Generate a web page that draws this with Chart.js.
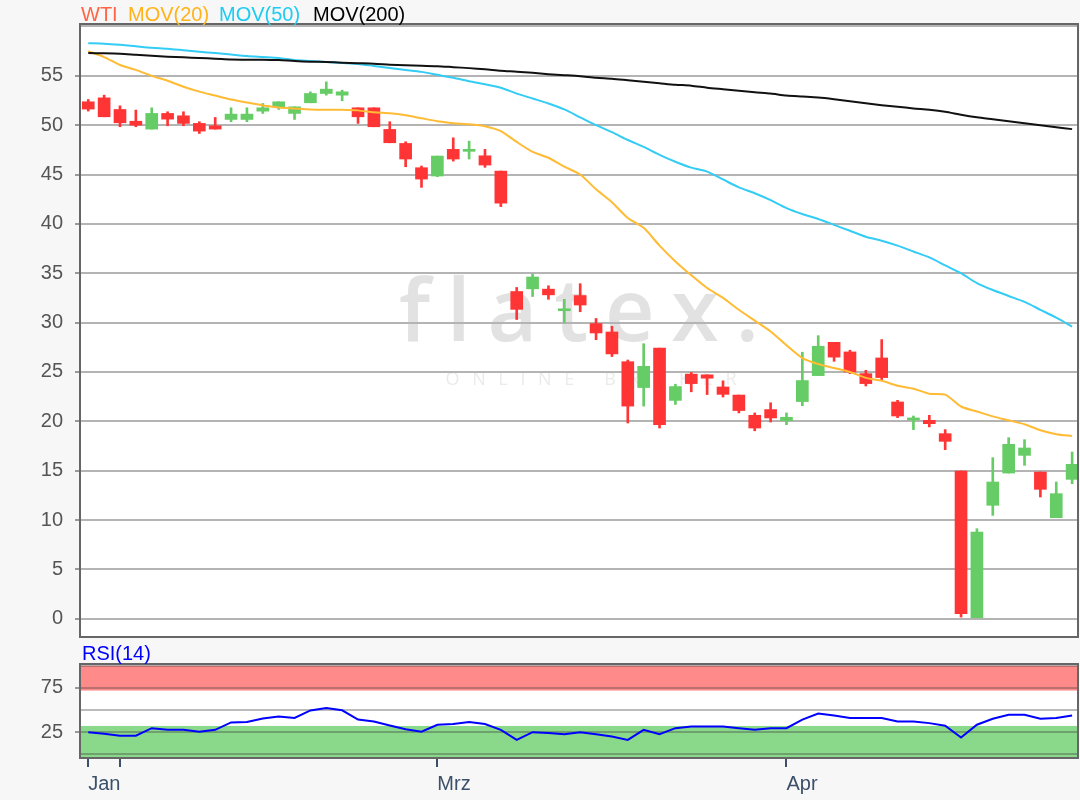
<!DOCTYPE html>
<html>
<head>
<meta charset="utf-8">
<title>WTI</title>
<script src="https://cdn.jsdelivr.net/npm/chart.js@4.4.1/dist/chart.umd.min.js"></script>
<style>
  html, body { margin: 0; padding: 0; background: #f7f7f7; }
  #wrap { position: relative; width: 1080px; height: 800px; overflow: hidden;
          font-family: "Liberation Sans", Arial, sans-serif; }
  #main { position: absolute; left: 0; top: 0; }
  #rsi { position: absolute; left: 0; top: 640px; }
  .lbl { position: absolute; font-size: 20px; line-height: 20px; white-space: nowrap; }
</style>
</head>
<body>
<div id="wrap">
  <canvas id="main" width="1080" height="640"></canvas>
  <canvas id="rsi" width="1080" height="160"></canvas>
  <span class="lbl" style="left:81px;top:4px;color:#ff6445">WTI</span>
  <span class="lbl" style="left:128px;top:4px;color:#ffb319">MOV(20)</span>
  <span class="lbl" style="left:219px;top:4px;color:#1ecbf2">MOV(50)</span>
  <span class="lbl" style="left:313px;top:4px;color:#000">MOV(200)</span>
  <span class="lbl" style="left:82px;top:643px;color:#0000ff">RSI(14)</span>
</div>
<script>
// daily candles, 30 Jan - end of Apr
const openP  = [52.37, 52.77, 51.59, 50.4, 49.6, 51.19, 50.95, 50.18, 49.94, 50.58,
                50.58, 51.42, 51.86, 51.19, 52.27, 53.21, 53.04, 51.76, 51.76, 49.57,
                48.15, 45.69, 44.85, 47.55, 47.35, 46.9, 45.35, 33.15, 33.42, 33.39,
                31.2, 32.74, 29.9, 29.05, 26.04, 23.42, 27.41, 22.12, 24.78, 24.71,
                23.48, 22.66, 20.61, 21.19, 20.07, 22.0, 24.63, 28.0, 27.03, 24.83,
                26.42, 21.96, 20.14, 20.1, 18.75, 14.97, 0.0, 11.49, 14.76, 16.55,
                14.86, 10.24, 14.12];
const highP  = [52.6, 53.04, 51.96, 51.53, 51.76, 51.36, 51.36, 50.35, 50.78, 51.76,
                51.76, 52.2, 52.37, 51.86, 53.38, 54.39, 53.55, 51.76, 51.76, 50.35,
                48.32, 45.86, 46.87, 48.72, 48.38, 47.55, 45.35, 33.56, 34.92, 33.73,
                32.36, 33.94, 30.42, 29.63, 26.21, 27.86, 27.41, 23.76, 24.95, 24.71,
                24.1, 22.66, 20.85, 21.88, 20.85, 27.0, 28.68, 28.0, 27.2, 25.17,
                28.28, 22.13, 20.54, 20.61, 19.16, 14.97, 9.12, 16.32, 18.34, 18.14,
                14.86, 13.85, 16.89];
const lowP   = [51.43, 50.85, 49.84, 49.84, 49.6, 49.94, 49.94, 49.16, 49.6, 50.35,
                50.35, 51.19, 51.6, 50.58, 52.27, 53.04, 52.47, 50.18, 49.84, 48.22,
                45.79, 43.7, 44.78, 46.36, 46.57, 45.73, 41.75, 30.31, 32.64, 32.36,
                29.97, 31.1, 28.27, 26.56, 19.83, 21.54, 19.32, 21.71, 22.99, 22.71,
                22.46, 20.85, 19.04, 19.93, 19.66, 21.58, 24.63, 26.08, 24.83, 23.58,
                24.16, 20.37, 19.16, 19.43, 17.13, 0.17, 0.0, 10.47, 14.76, 15.54,
                12.33, 10.24, 13.68];
const closeP = [51.63, 50.85, 50.24, 50.0, 51.19, 50.61, 50.18, 49.4, 49.6, 51.12,
                51.12, 51.76, 52.37, 51.86, 53.21, 53.65, 53.38, 50.85, 49.84, 48.22,
                46.57, 44.54, 46.87, 46.57, 47.45, 45.96, 42.1, 31.34, 34.62, 32.81,
                31.3, 31.78, 28.95, 26.83, 21.54, 25.57, 19.66, 23.52, 23.82, 24.37,
                22.73, 21.09, 19.32, 20.34, 20.41, 24.13, 27.6, 26.5, 25.0, 23.82,
                24.43, 20.54, 20.17, 19.76, 17.97, 0.51, 8.78, 13.85, 17.67, 17.3,
                13.11, 12.67, 15.64];

const mov20  = [57.5, 56.9, 56.1, 55.6, 55.0, 54.5, 53.9, 53.4, 53.0, 52.6,
                52.3, 52.0, 51.8, 51.7, 51.6, 51.57, 51.57, 51.5, 51.3, 51.2,
                51.0, 50.7, 50.4, 50.2, 50.1, 49.9, 49.4, 48.3, 47.3, 46.7,
                45.8, 45.0, 43.5, 42.2, 40.6, 39.6, 37.8, 36.2, 34.8, 33.5,
                32.5, 31.3, 30.2, 29.1, 27.7, 26.4, 25.8, 25.4, 25.0, 24.4,
                24.1, 23.6, 23.3, 22.8, 22.7, 21.5, 21.0, 20.5, 20.1, 19.7,
                19.1, 18.7, 18.5];
const mov50  = [58.3, 58.26, 58.15, 58.0, 57.85, 57.75, 57.6, 57.45, 57.3, 57.15,
                57.0, 56.9, 56.8, 56.6, 56.5, 56.4, 56.3, 56.2, 56.0, 55.8,
                55.6, 55.4, 55.1, 54.8, 54.45, 54.15, 53.8, 53.2, 52.7, 52.2,
                51.6, 50.8, 50.0, 49.3, 48.5, 47.8, 47.0, 46.3, 45.7, 45.3,
                44.5, 43.7, 43.1, 42.4, 41.6, 41.0, 40.5, 39.9, 39.3, 38.7,
                38.3, 37.8, 37.2, 36.6, 35.8, 35.0, 34.0, 33.3, 32.7, 32.1,
                31.3, 30.5, 29.6];
const mov200 = [57.3, 57.28, 57.24, 57.14, 57.04, 56.94, 56.87, 56.8, 56.74, 56.66,
                56.64, 56.64, 56.6, 56.5, 56.43, 56.4, 56.33, 56.28, 56.23, 56.13,
                56.06, 56.03, 55.98, 55.88, 55.78, 55.67, 55.52, 55.42, 55.3, 55.17,
                55.07, 54.96, 54.8, 54.7, 54.55, 54.4, 54.25, 54.1, 54.0, 53.8,
                53.65, 53.5, 53.34, 53.2, 53.0, 52.9, 52.8, 52.63, 52.43, 52.23,
                52.03, 51.87, 51.7, 51.57, 51.37, 51.06, 50.8, 50.6, 50.4, 50.2,
                50.0, 49.8, 49.6];
const rsi14  = [25.0, 23.3, 21.0, 21.0, 29.5, 27.6, 27.6, 25.5, 27.6, 36.0,
                36.5, 40.5, 42.8, 41.0, 49.5, 52.3, 49.7, 39.2, 37.1, 32.6,
                28.4, 25.5, 33.4, 34.1, 36.5, 34.1, 27.6, 16.3, 25.0, 24.0,
                22.7, 25.0, 22.7, 20.0, 16.3, 27.6, 22.7, 29.5, 31.5, 31.5,
                31.5, 29.5, 27.6, 29.5, 29.5, 39.2, 46.0, 43.7, 40.9, 40.9,
                40.9, 37.1, 37.1, 35.2, 32.2, 18.9, 33.4, 40.2, 44.7, 44.7,
                40.2, 40.9, 43.7];

// month ticks (candle index) and their labels
const monthTicks  = [0, 2, 22, 44];
const monthLabels = ['Jan', '', 'Mrz', 'Apr'];
const priceTicks  = [0, 5, 10, 15, 20, 25, 30, 35, 40, 45, 50, 55, 60];
const rsiTicks    = [0, 25, 50, 75, 100];

const FONT = '"Liberation Sans", Arial, sans-serif';
const RED = '#ff3535';
const GREEN = '#66cc66';

Chart.defaults.font.family = FONT;
Chart.defaults.font.size = 20;

const idx = openP.map((_, i) => i);
const candleColor = idx.map(i => (closeP[i] >= openP[i] ? GREEN : RED));
const xRange = { min: -0.52, max: 62.37 };

// white plot area, optional bands + watermark, dark frame
const plotFrame = {
  id: 'plotFrame',
  beforeDraw(chart, args, opts) {
    const { ctx, chartArea: a } = chart;
    const y = chart.scales.y;
    ctx.save();
    ctx.fillStyle = '#fff';
    ctx.fillRect(a.left, a.top, a.width, a.height);
    (opts.bands || []).forEach(b => {
      const top = y.getPixelForValue(b.to);
      const bottom = y.getPixelForValue(b.from);
      ctx.fillStyle = b.color;
      ctx.fillRect(a.left, top, a.width, bottom - top);
    });
    if (opts.watermark) {
      const cx = (a.left + a.right) / 2;
      const cy = (a.top + a.bottom) / 2;
      ctx.textBaseline = 'alphabetic';
      ctx.fillStyle = '#e2e2e2';
      ctx.font = '600 86px "Open Sans", sans-serif';
      spacedText(ctx, 'flatex.', cx, cy + 10, 360);
      ctx.fillStyle = '#ebebeb';
      ctx.font = '18px "Open Sans", sans-serif';
      spacedText(ctx, 'ONLINE BROKER', cx + 12, cy + 54, 291);
    }
    ctx.restore();
  },
  afterDraw(chart) {
    const { ctx, chartArea: a } = chart;
    ctx.save();
    ctx.strokeStyle = '#666';
    ctx.lineWidth = 2;
    ctx.strokeRect(a.left, a.top, a.width, a.height);
    ctx.restore();
  }
};

function spacedText(ctx, text, cx, y, width) {
  const chars = [...text];
  const w = chars.map(c => ctx.measureText(c).width);
  const gap = (width - w.reduce((s, v) => s + v, 0)) / (chars.length - 1);
  let x = cx - width / 2;
  chars.forEach((c, i) => { ctx.fillText(c, x, y); x += w[i] + gap; });
}

function fixedY(width) {
  return s => { s.width = width; s.paddingTop = 0; s.paddingBottom = 0; };
}

const lineDs = (label, values, color) => ({
  type: 'line', label, order: 0,
  data: idx.map(i => ({ x: i, y: values[i] })),
  borderColor: color, borderWidth: 2, pointRadius: 0, tension: 0.25
});

new Chart(document.getElementById('main'), {
  type: 'bar',
  data: {
    datasets: [
      lineDs('MOV(200)', mov200, '#111'),
      lineDs('MOV(50)', mov50, '#33ccf5'),
      lineDs('MOV(20)', mov20, '#ffbb33'),
      {
        label: 'WTI', order: 1, grouped: false,
        data: idx.map(i => ({ x: i, y: [openP[i], closeP[i]] })),
        backgroundColor: candleColor, barThickness: 12, minBarLength: 2
      },
      {
        label: 'WTI range', order: 2, grouped: false,
        data: idx.map(i => ({ x: i, y: [lowP[i], highP[i]] })),
        backgroundColor: candleColor, barThickness: 2
      }
    ]
  },
  options: {
    responsive: false,
    animation: false,
    devicePixelRatio: 1,
    layout: { padding: { top: 24, left: 0, right: 2, bottom: 3 } },
    plugins: { legend: { display: false }, tooltip: { enabled: false }, plotFrame: { watermark: true } },
    scales: {
      x: {
        type: 'linear', display: false, offset: false, grid: { offset: false },
        min: xRange.min, max: xRange.max
      },
      y: {
        min: -1.85, max: 60.25,
        afterBuildTicks: s => { s.ticks = priceTicks.map(v => ({ value: v })); },
        afterFit: fixedY(80),
        border: { display: false },
        grid: {
          color: '#b4b4b4', lineWidth: 2, tickLength: 5,
          tickColor: c => (c.tick && c.tick.value < 60 ? '#999' : 'rgba(0,0,0,0)')
        },
        ticks: {
          color: '#555', padding: 12, autoSkip: false,
          callback: v => (v < 60 ? v : '')
        }
      }
    }
  },
  plugins: [plotFrame]
});

new Chart(document.getElementById('rsi'), {
  type: 'line',
  data: {
    datasets: [{
      label: 'RSI(14)',
      data: idx.map(i => ({ x: i, y: rsi14[i] })),
      borderColor: '#0000ff', borderWidth: 2, pointRadius: 0, tension: 0
    }]
  },
  options: {
    responsive: false,
    animation: false,
    devicePixelRatio: 1,
    layout: { padding: { top: 24, left: 0, right: 2, bottom: 0 } },
    plugins: {
      legend: { display: false }, tooltip: { enabled: false },
      plotFrame: { bands: [{ from: 72, to: 100, color: '#ff8a8a' }, { from: -5, to: 32, color: '#8ad88a' }] }
    },
    scales: {
      x: {
        type: 'linear', offset: false,
        min: xRange.min, max: xRange.max,
        afterBuildTicks: s => { s.ticks = monthTicks.map(v => ({ value: v })); },
        afterFit: s => { s.height = 42; s.paddingLeft = 0; s.paddingRight = 0; },
        border: { display: false },
        grid: { drawOnChartArea: false, offset: false, tickLength: 9, lineWidth: 2, color: '#3c5069' },
        ticks: {
          color: '#3c5069', align: 'start', padding: 5, autoSkip: false, maxRotation: 0,
          callback: (v, i) => monthLabels[i]
        }
      },
      y: {
        min: -4.2, max: 102,
        afterBuildTicks: s => { s.ticks = rsiTicks.map(v => ({ value: v })); },
        afterFit: fixedY(80),
        border: { display: false },
        grid: {
          color: 'rgba(60,60,60,0.35)', lineWidth: 2, tickLength: 5,
          tickColor: c => (c.tick && (c.tick.value === 25 || c.tick.value === 75) ? '#999' : 'rgba(0,0,0,0)')
        },
        ticks: {
          color: '#555', padding: 12, autoSkip: false,
          callback: v => (v === 25 || v === 75 ? v : '')
        }
      }
    }
  },
  plugins: [plotFrame]
});
</script>
</body>
</html>
